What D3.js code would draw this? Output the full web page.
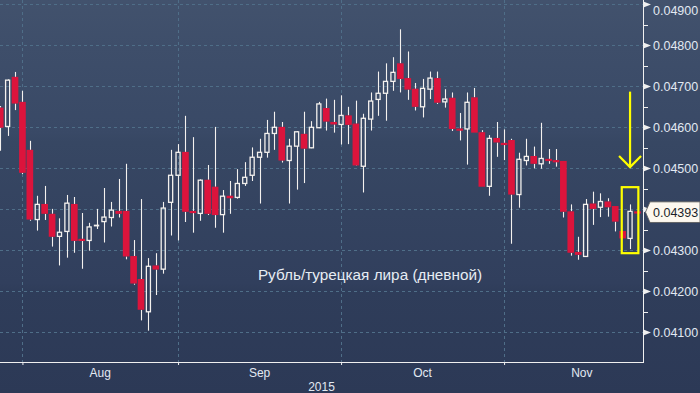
<!DOCTYPE html>
<html>
<head>
<meta charset="utf-8">
<script src="https://cdn.jsdelivr.net/npm/d3@7"></script>
<style>
  body { margin: 0; background: #2e3b57; }
  svg { display: block; font-family: "Liberation Sans", Arial, sans-serif; }
</style>
</head>
<body>
<svg id="chart"></svg>
<script>
// trading days shown (2015)
const dates = [
  "07-29", "07-30", "07-31",
  "08-03", "08-04", "08-05", "08-06", "08-07", "08-10", "08-11", "08-12", "08-13", "08-14",
  "08-17", "08-18", "08-19", "08-20", "08-21", "08-24", "08-25", "08-26", "08-27", "08-28", "08-31",
  "09-01", "09-02", "09-03", "09-04", "09-07", "09-08", "09-09", "09-10", "09-11",
  "09-14", "09-15", "09-16", "09-17", "09-18", "09-21", "09-22", "09-23", "09-24", "09-25",
  "09-28", "09-29", "09-30",
  "10-01", "10-02", "10-05", "10-06", "10-07", "10-08", "10-09", "10-12", "10-13", "10-14",
  "10-15", "10-16", "10-19", "10-20", "10-21", "10-22", "10-23", "10-26", "10-27", "10-28",
  "10-29", "10-30",
  "11-02", "11-03", "11-04", "11-05", "11-06", "11-09", "11-10", "11-11", "11-12", "11-13",
  "11-16", "11-17", "11-18", "11-19", "11-20", "11-23", "11-24", "11-25", "11-26"
];

const open = [
  0.04648, 0.04602, 0.04723, 0.04662, 0.04545, 0.04375, 0.04413, 0.04389, 0.04334, 0.04346,
  0.04413, 0.04328, 0.04324, 0.04360, 0.04370, 0.04380, 0.04396, 0.04396, 0.04286, 0.04230,
  0.04150, 0.04263, 0.04254, 0.04417, 0.04483, 0.04540, 0.04396, 0.04390, 0.04472, 0.04455,
  0.04387, 0.04433, 0.04429, 0.04463, 0.04483, 0.04527, 0.04539, 0.04585, 0.04601, 0.04519,
  0.04554, 0.04584, 0.04550, 0.04599, 0.04647, 0.04613, 0.04607, 0.04629, 0.04609, 0.04505,
  0.04620, 0.04668, 0.04683, 0.04712, 0.04756, 0.04720, 0.04694, 0.04650, 0.04693, 0.04720,
  0.04662, 0.04672, 0.04597, 0.04596, 0.04673, 0.04588, 0.04456, 0.04574, 0.04562, 0.04569,
  0.04436, 0.04519, 0.04530, 0.04511, 0.04523, 0.04520, 0.04518, 0.04395, 0.04296, 0.04285,
  0.04414, 0.04405, 0.04419, 0.04408, 0.04347, 0.04329, 0.04395
];
const high = [
  0.04652, 0.04717, 0.04735, 0.04689, 0.04567, 0.04433, 0.04457, 0.04401, 0.04378, 0.04435,
  0.04430, 0.04391, 0.04367, 0.04401, 0.04452, 0.04418, 0.04474, 0.04511, 0.04325, 0.04425,
  0.04281, 0.04293, 0.04418, 0.04545, 0.04559, 0.04628, 0.04576, 0.04473, 0.04508, 0.04601,
  0.04447, 0.04469, 0.04498, 0.04515, 0.04551, 0.04572, 0.04618, 0.04638, 0.04613, 0.04572,
  0.04591, 0.04638, 0.04615, 0.04662, 0.04670, 0.04667, 0.04678, 0.04650, 0.04665, 0.04633,
  0.04685, 0.04736, 0.04756, 0.04771, 0.04839, 0.04785, 0.04708, 0.04718, 0.04736, 0.04736,
  0.04693, 0.04685, 0.04635, 0.04685, 0.04696, 0.04593, 0.04581, 0.04613, 0.04595, 0.04572,
  0.04538, 0.04572, 0.04553, 0.04611, 0.04547, 0.04547, 0.04518, 0.04412, 0.04333, 0.04425,
  0.04443, 0.04439, 0.04427, 0.04408, 0.04347, 0.04412, 0.04395
];
const low = [
  0.04543, 0.04579, 0.04642, 0.04486, 0.04372, 0.04348, 0.04374, 0.04309, 0.04263, 0.04282,
  0.04294, 0.04255, 0.04299, 0.04352, 0.04319, 0.04358, 0.04380, 0.04278, 0.04216, 0.04129,
  0.04104, 0.04191, 0.04243, 0.04336, 0.04324, 0.04369, 0.04343, 0.04372, 0.04386, 0.04355,
  0.04343, 0.04389, 0.04426, 0.04457, 0.04469, 0.04414, 0.04526, 0.04545, 0.04514, 0.04414,
  0.04448, 0.04464, 0.04549, 0.04598, 0.04592, 0.04587, 0.04558, 0.04559, 0.04506, 0.04441,
  0.04592, 0.04628, 0.04616, 0.04689, 0.04685, 0.04667, 0.04641, 0.04624, 0.04669, 0.04657,
  0.04648, 0.04591, 0.04568, 0.04509, 0.04587, 0.04455, 0.04433, 0.04528, 0.04520, 0.04316,
  0.04404, 0.04507, 0.04500, 0.04499, 0.04511, 0.04504, 0.04380, 0.04287, 0.04277, 0.04285,
  0.04362, 0.04381, 0.04382, 0.04346, 0.04329, 0.04303, 0.04393
];
const close = [
  0.04599, 0.04715, 0.04658, 0.04489, 0.04375, 0.04412, 0.04389, 0.04333, 0.04344, 0.04415,
  0.04323, 0.04323, 0.04357, 0.04361, 0.04381, 0.04398, 0.04389, 0.04285, 0.04219, 0.04155,
  0.04261, 0.04253, 0.04403, 0.04483, 0.04539, 0.04394, 0.04392, 0.04471, 0.04389, 0.04386,
  0.04432, 0.04427, 0.04463, 0.04478, 0.04527, 0.04539, 0.04585, 0.04600, 0.04519, 0.04554,
  0.04589, 0.04548, 0.04600, 0.04657, 0.04614, 0.04607, 0.04629, 0.04606, 0.04507, 0.04622,
  0.04664, 0.04683, 0.04712, 0.04734, 0.04718, 0.04692, 0.04650, 0.04695, 0.04720, 0.04660,
  0.04669, 0.04596, 0.04594, 0.04661, 0.04587, 0.04455, 0.04573, 0.04563, 0.04558, 0.04436,
  0.04522, 0.04529, 0.04511, 0.04524, 0.04518, 0.04516, 0.04394, 0.04294, 0.04289, 0.04412,
  0.04401, 0.04419, 0.04405, 0.04370, 0.04329, 0.04395, 0.04393
];

const yTicks = [0.041, 0.042, 0.043, 0.044, 0.045, 0.046, 0.047, 0.048, 0.049];
const yMinorTicks = [0.0415, 0.0425, 0.0435, 0.0445, 0.0455, 0.0465, 0.0475, 0.0485];
const months = ["Aug", "Sep", "Oct", "Nov"];
const monthStarts = ["08-03", "09-01", "10-01", "11-02"];
const monthDays = [21, 22, 22, 21]; // trading days per month
const yearLabel = "2015";
const title = "Рубль/турецкая лира (дневной)";
const lastPrice = 0.04393;
// yellow annotation (in price units, around the 11-25 candle)
const markDate = "11-25";
const boxRange = [0.04293, 0.04454];
const arrowRange = [0.04503, 0.04687];

const width = 700, height = 393;
const plotRight = 643, axisY = 362;

const svg = d3.select("#chart")
  .attr("width", width)
  .attr("height", height);

const defs = svg.append("defs");
const grad = defs.append("linearGradient")
  .attr("id", "bg").attr("x1", 0).attr("y1", 0).attr("x2", 0).attr("y2", 1);
[["0%", "#42526d"], ["12%", "#3e4e6a"], ["34%", "#394966"], ["36%", "#374763"],
 ["72%", "#313f5d"], ["74%", "#2f3d5a"], ["100%", "#2c3956"]]
  .forEach(s => grad.append("stop").attr("offset", s[0]).attr("stop-color", s[1]));

defs.append("clipPath").attr("id", "plot-clip")
  .append("rect").attr("x", 0).attr("y", 0).attr("width", plotRight).attr("height", axisY);

svg.append("rect")
  .attr("width", width).attr("height", height)
  .attr("fill", "url(#bg)");

const x = d3.scaleBand()
  .domain(dates)
  .range([-3.5, 641.17])
  .paddingInner(0.1)
  .paddingOuter(0.05);
const xc = d => x(d) + x.bandwidth() / 2;

const y = d3.scaleLinear()
  .domain([0.041, 0.049])
  .range([332.3, 4.3]);

const gridColor = "#4f6e88";

// horizontal grid
svg.append("g")
  .selectAll("line")
  .data(yTicks)
  .join("line")
  .attr("x1", 0).attr("x2", plotRight)
  .attr("y1", d => Math.round(y(d)) + 0.5)
  .attr("y2", d => Math.round(y(d)) + 0.5)
  .attr("stroke", gridColor)
  .attr("stroke-dasharray", "3,3");

// vertical grid at month starts
svg.append("g")
  .selectAll("line")
  .data(monthStarts)
  .join("line")
  .attr("x1", d => Math.round(xc(d)) + 0.5)
  .attr("x2", d => Math.round(xc(d)) + 0.5)
  .attr("y1", 0).attr("y2", axisY)
  .attr("stroke", gridColor)
  .attr("stroke-dasharray", "3,3");

const candles = dates.map((d, i) => ({
  date: d, o: open[i], h: high[i], l: low[i], c: close[i], up: close[i] >= open[i]
}));

const plot = svg.append("g").attr("clip-path", "url(#plot-clip)");
const red = "#dc143c", white = "#f4f1ee";

const g = plot.selectAll("g.candle")
  .data(candles)
  .join("g")
  .attr("class", "candle");

const wickX = d => Math.round(xc(d.date)) + 0.5;

// wicks: above and below the body, so hollow bodies stay empty
g.append("line")
  .attr("x1", wickX).attr("x2", wickX)
  .attr("y1", d => y(d.h))
  .attr("y2", d => y(Math.max(d.o, d.c)))
  .attr("stroke", white)
  .attr("stroke-width", 1.1);
g.append("line")
  .attr("x1", wickX).attr("x2", wickX)
  .attr("y1", d => y(Math.min(d.o, d.c)))
  .attr("y2", d => y(d.l))
  .attr("stroke", white)
  .attr("stroke-width", 1.1);

// bodies
g.append("rect")
  .attr("x", d => d.up ? x(d.date) + 1.3 : x(d.date))
  .attr("width", d => d.up ? x.bandwidth() - 2.6 : x.bandwidth())
  .attr("y", d => y(Math.max(d.o, d.c)))
  .attr("height", d => Math.max(d.up ? 0.5 : 2.2, Math.abs(y(d.o) - y(d.c))))
  .attr("fill", d => d.up ? "none" : red)
  .attr("stroke", d => d.up ? white : "none")
  .attr("stroke-width", 1.3);

// x axis
svg.append("line")
  .attr("x1", 0).attr("x2", plotRight + 0.5)
  .attr("y1", axisY + 0.5).attr("y2", axisY + 0.5)
  .attr("stroke", "#f0f0f0");

const xAxis = d3.axisBottom(x)
  .tickValues(monthStarts)
  .tickSize(3)
  .tickFormat("");
svg.append("g")
  .attr("transform", `translate(0, ${axisY})`)
  .call(xAxis)
  .call(s => s.select(".domain").remove())
  .call(s => s.selectAll(".tick line").attr("stroke", "#f0f0f0")
    .attr("transform", "translate(0.5,0)"));

const textColor = "#e2e9f2";
svg.append("g")
  .selectAll("text")
  .data(months)
  .join("text")
  .attr("x", (m, i) => xc(monthStarts[i]) + monthDays[i] * x.step() / 2)
  .attr("y", 377)
  .attr("text-anchor", "middle")
  .attr("fill", textColor)
  .attr("font-size", 12)
  .text(m => m);

svg.append("text")
  .attr("x", plotRight / 2)
  .attr("y", 391)
  .attr("text-anchor", "middle")
  .attr("fill", textColor)
  .attr("font-size", 12)
  .text(yearLabel);

// right axis
svg.append("line")
  .attr("x1", plotRight + 0.5).attr("x2", plotRight + 0.5)
  .attr("y1", 0).attr("y2", axisY + 1)
  .attr("stroke", "#f0f0f0");

svg.append("g")
  .selectAll("line")
  .data(yMinorTicks)
  .join("line")
  .attr("x1", plotRight).attr("x2", plotRight + 5)
  .attr("y1", d => Math.round(y(d)) + 0.5)
  .attr("y2", d => Math.round(y(d)) + 0.5)
  .attr("stroke", "#f0f0f0");

const yt = svg.append("g")
  .selectAll("g")
  .data(yTicks)
  .join("g")
  .attr("transform", d => `translate(${plotRight}, ${Math.round(y(d)) + 0.5})`);
yt.append("path")
  .attr("d", "M1,-2.8L8,0L1,2.8Z")
  .attr("fill", "#f0f0f0");
// the label under the last-price tag is not shown
yt.filter(d => Math.abs(y(d) - y(lastPrice)) > 12)
  .append("text")
  .attr("x", 10)
  .attr("y", d => Math.max(0, 10 - y(d)))
  .attr("dy", "0.35em")
  .attr("fill", textColor)
  .attr("font-size", 12.5)
  .text(d => d3.format(".5f")(d));

// last price tag
const ly = y(lastPrice);
const tag = svg.append("g").attr("transform", `translate(${plotRight}, ${ly})`);
tag.append("path")
  .attr("d", "M2.5,0L7,-10.3L57,-10.3L57,10.3L7,10.3Z")
  .attr("fill", "#fdf8ef")
  .attr("stroke", "#555")
  .attr("stroke-width", 0.8);
tag.append("text")
  .attr("x", 10)
  .attr("dy", "0.35em")
  .attr("fill", "#1b1f2a")
  .attr("font-size", 12.5)
  .text(d3.format(".5f")(lastPrice));

// title in plot
svg.append("text")
  .attr("x", 370)
  .attr("y", 280)
  .attr("text-anchor", "middle")
  .attr("fill", "#e6ecf3")
  .attr("font-size", 15.3)
  .text(title);

// yellow annotation
const ax = xc(markDate);
const yellow = "#ffff00";
svg.append("rect")
  .attr("x", ax - 8.3).attr("width", 16.6)
  .attr("y", y(boxRange[1])).attr("height", y(boxRange[0]) - y(boxRange[1]))
  .attr("fill", "none")
  .attr("stroke", yellow)
  .attr("stroke-width", 2.2);
svg.append("line")
  .attr("x1", ax).attr("x2", ax)
  .attr("y1", y(arrowRange[1])).attr("y2", y(arrowRange[0]))
  .attr("stroke", yellow)
  .attr("stroke-width", 2.2);
svg.append("path")
  .attr("d", `M${ax - 11},${y(arrowRange[0]) - 11}L${ax},${y(arrowRange[0])}L${ax + 11},${y(arrowRange[0]) - 11}`)
  .attr("fill", "none")
  .attr("stroke", yellow)
  .attr("stroke-width", 2.2);
</script>
</body>
</html>
